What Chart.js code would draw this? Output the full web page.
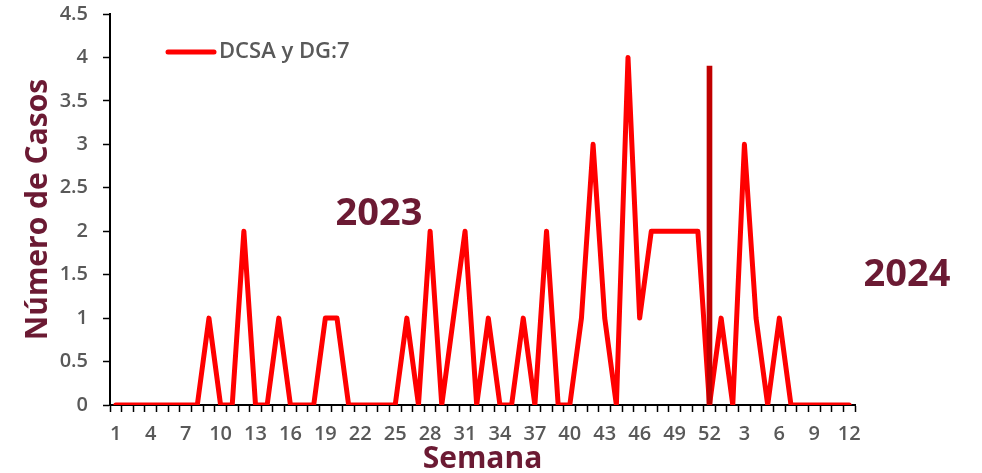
<!DOCTYPE html>
<html>
<head>
<meta charset="utf-8">
<script src="https://cdn.jsdelivr.net/npm/chart.js@4"></script>
<style>
  html, body { margin: 0; padding: 0; background: #fff; }
  #wrap { width: 982px; height: 473px; }
</style>
</head>
<body>
<div id="wrap"><canvas id="myChart"></canvas></div>
<script>
const weeks2023 = Array.from({ length: 52 }, (_, i) => String(i + 1));
const weeks2024 = Array.from({ length: 12 }, (_, i) => String(i + 1));
const labels = weeks2023.concat(weeks2024);

const casos2023 = [
  0, 0, 0, 0, 0, 0, 0, 0, 1, 0,
  0, 2, 0, 0, 1, 0, 0, 0, 1, 1,
  0, 0, 0, 0, 0, 1, 0, 2, 0, 1,
  2, 0, 1, 0, 0, 1, 0, 2, 0, 0,
  1, 3, 1, 0, 4, 1, 2, 2, 2, 2,
  2, 0
];
const casos2024 = [1, 0, 3, 1, 0, 1, 0, 0, 0, 0, 0, 0];
const casos = casos2023.concat(casos2024);

// separador entre años (semana 52)
const separador = labels.map((_, i) => (i === 51 ? 3.9 : null));

const gris = "#595959";
const guinda = "#6B1A33";
const fuente = "'Open Sans', sans-serif";

const notas = {
  id: "notas",
  afterDraw(chart) {
    const c = chart.ctx;
    c.save();
    // leyenda
    c.strokeStyle = "rgb(255, 0, 0)";
    c.lineWidth = 5;
    c.lineCap = "round";
    c.beginPath();
    c.moveTo(168, 52);
    c.lineTo(214, 52);
    c.stroke();
    c.fillStyle = gris;
    c.font = "600 22px " + fuente;
    c.textAlign = "left";
    c.textBaseline = "middle";
    c.fillText("DCSA y DG:7", 219, 52);
    // años
    c.fillStyle = guinda;
    c.font = "bold 38px " + fuente;
    c.textAlign = "center";
    c.fillText("2023", 379, 214);
    c.fillText("2024", 907, 275);
    c.restore();
  },
};

const ctx = document.getElementById("myChart").getContext("2d");
const myChart = new Chart(ctx, {
  data: {
    labels: labels,
    datasets: [
      {
        type: "bar",
        label: "separador",
        data: separador,
        backgroundColor: "#C00000",
        barThickness: 5,
        order: 0,
      },
      {
        type: "line",
        label: "DCSA y DG:7",
        data: casos,
        backgroundColor: "transparent",
        borderColor: "rgb(255, 0, 0)",
        borderWidth: 5,
        borderJoinStyle: "round",
        borderCapStyle: "round",
        tension: 0,
        pointRadius: 0,
        order: 1,
      },
    ],
  },
  options: {
    responsive: true,
    maintainAspectRatio: false,
    animation: false,
    layout: { padding: { left: 16, top: 0, right: 127, bottom: 0 } },
    plugins: {
      legend: { display: false },
      tooltip: { enabled: false },
    },
    scales: {
      x: {
        offset: true,
        grid: {
          offset: true,
          drawOnChartArea: false,
          color: "#000",
          tickLength: 7,
          tickWidth: 1.5,
        },
        border: { color: "#000", width: 2 },
        ticks: {
          autoSkip: false,
          maxRotation: 0,
          padding: 10,
          color: gris,
          font: { family: fuente, size: 20, weight: "600" },
          callback: (v, i) => (i % 3 === 0 ? labels[i] : ""),
        },
        title: {
          display: true,
          text: "Semana",
          color: guinda,
          font: { family: fuente, size: 30, weight: "bold" },
          padding: { top: 0, bottom: -4 },
        },
        afterFit: (s) => { s.height = 68; },
      },
      y: {
        min: 0,
        max: 4.5,
        ticks: {
          stepSize: 0.5,
          padding: 15,
          color: gris,
          font: { family: fuente, size: 20, weight: "600" },
          callback: (v) => String(v),
        },
        grid: {
          drawOnChartArea: false,
          color: "#000",
          tickLength: 7,
          tickWidth: 1.5,
        },
        border: { color: "#000", width: 2 },
        title: {
          display: true,
          text: "Número de Casos",
          color: guinda,
          font: { family: fuente, size: 30, weight: "bold" },
          padding: { top: 4, bottom: 4 },
        },
        afterFit: (s) => {
          s.width = 94;
          s.paddingTop = 14;
          s.paddingBottom = 0;
        },
      },
    },
  },
  plugins: [notas],
});
</script>
</body>
</html>
